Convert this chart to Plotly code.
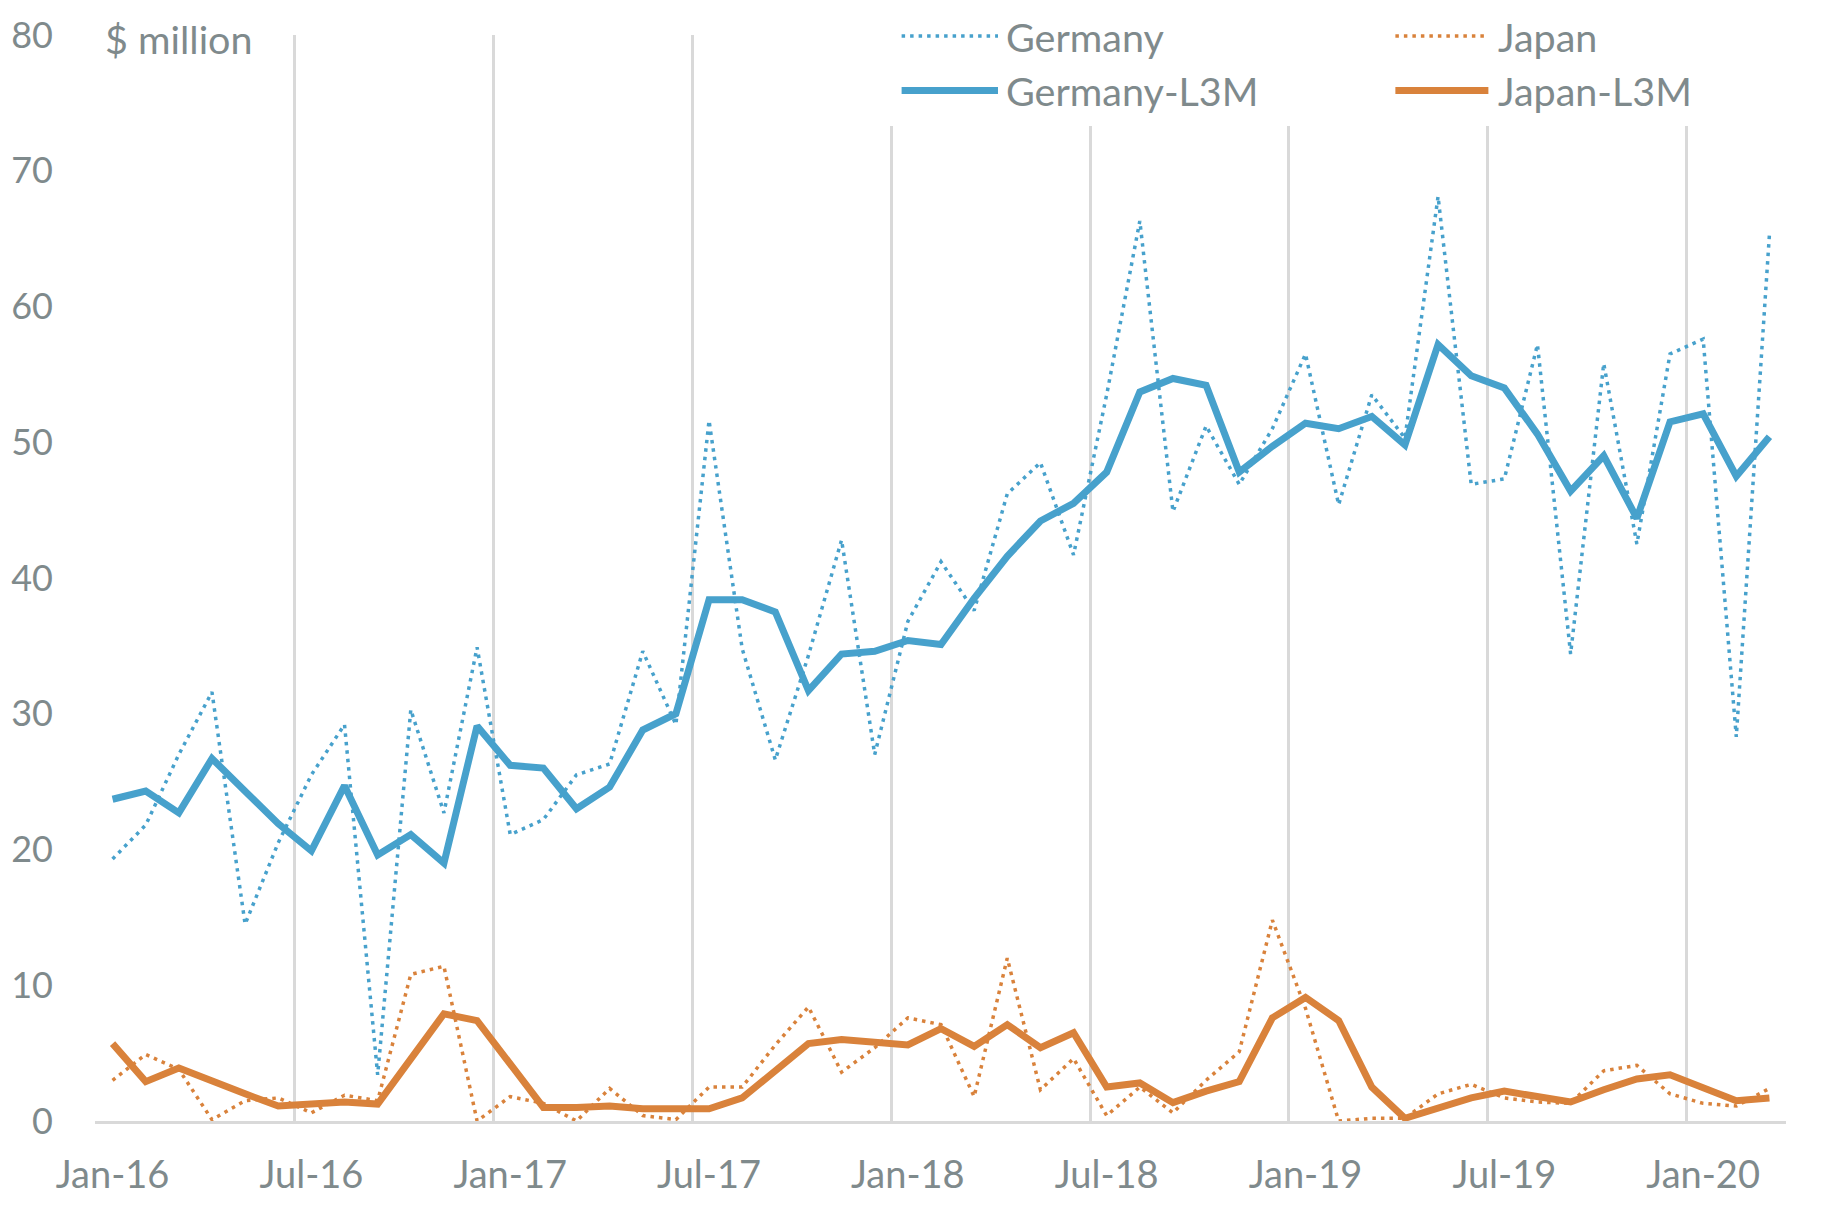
import plotly.graph_objects as go
import pandas as pd

months = pd.date_range("2016-01-01", "2020-03-01", freq="MS").strftime("%b-%y").tolist()

germany = [19.3, 21.8, 27.0, 31.6, 14.5, 20.5, 25.5, 29.2, 3.4, 30.3,
           22.7, 34.9, 21.1, 22.2, 25.5, 26.3, 34.6, 29.2, 51.6, 34.8,
           26.6, 34.3, 42.8, 27.0, 36.8, 41.2, 37.6, 46.2, 48.5, 41.7,
           53.5, 66.3, 44.9, 51.2, 46.9, 51.0, 56.5, 45.4, 53.5, 50.3,
           68.1, 46.9, 47.3, 57.2, 34.4, 55.8, 42.5, 56.5, 57.6, 28.3,
           65.3]

germany_l3m = [23.7, 24.3, 22.7, 26.7, 24.3, 21.9, 19.9, 24.7, 19.6, 21.1,
               19.0, 29.1, 26.2, 26.0, 23.0, 24.6, 28.8, 30.0, 38.4, 38.4,
               37.5, 31.7, 34.4, 34.6, 35.4, 35.1, 38.5, 41.6, 44.2, 45.5,
               47.8, 53.7, 54.7, 54.2, 47.8, 49.7, 51.4, 51.0, 51.9, 49.8,
               57.2, 54.9, 54.0, 50.6, 46.4, 49.0, 44.4, 51.5, 52.1, 47.5,
               50.4]

japan = [3.0, 4.9, 3.8, 0.1, 1.5, 1.7, 0.6, 1.9, 1.5, 10.8,
         11.4, 0.0, 1.8, 1.3, 0.0, 2.4, 0.4, 0.1, 2.5, 2.5,
         5.6, 8.4, 3.6, 5.4, 7.6, 7.1, 1.8, 12.0, 2.3, 4.6,
         0.4, 2.5, 0.6, 3.0, 5.1, 14.8, 8.3, 0.0, 0.2, 0.2,
         2.0, 2.7, 1.7, 1.4, 1.3, 3.7, 4.1, 2.0, 1.3, 1.1,
         2.4]

japan_l3m = [5.7, 2.9, 3.9, 2.9, 2.0, 1.1, 1.25, 1.4, 1.25, 4.5,
             7.9, 7.4, 4.2, 1.0, 1.0, 1.1, 0.9, 0.9, 0.9, 1.7,
             3.7, 5.7, 6.0, 5.8, 5.6, 6.8, 5.5, 7.1, 5.4, 6.5,
             2.5, 2.8, 1.35, 2.2, 2.9, 7.6, 9.1, 7.4, 2.5, 0.2,
             0.9, 1.7, 2.2, 1.8, 1.4, 2.3, 3.1, 3.4, 2.5, 1.5,
             1.7]

y_ticks = [0, 10, 20, 30, 40, 50, 60, 70, 80]

BLUE = "#47A1CC"
ORANGE = "#D9823B"
TEXT = "#7F8A8C"
GRID = "#D9D9D9"
FONT = "Lato, 'Open Sans', sans-serif"
FS = 38
FS_Y = 36
FS_LEG = 39.5
DOT = "3.5px,5px"
DOTW = 3.5
SOLIDW = 7

fig = go.Figure()
fig.add_trace(go.Scatter(x=months, y=germany, name="Germany", mode="lines",
                         line=dict(color=BLUE, width=DOTW, dash=DOT)))
fig.add_trace(go.Scatter(x=months, y=japan, name="Japan", mode="lines",
                         line=dict(color=ORANGE, width=DOTW, dash=DOT)))
fig.add_trace(go.Scatter(x=months, y=germany_l3m, name="Germany-L3M", mode="lines",
                         line=dict(color=BLUE, width=SOLIDW)))
fig.add_trace(go.Scatter(x=months, y=japan_l3m, name="Japan-L3M", mode="lines",
                         line=dict(color=ORANGE, width=SOLIDW)))

# page body has an 8px margin, so the figure is 16px smaller than the window
fig.update_layout(
    width=1814, height=1196,
    margin=dict(l=87, r=36, t=27, b=83),
    plot_bgcolor="white", paper_bgcolor="white",
    showlegend=False,
    font=dict(family=FONT, size=FS, color=TEXT),
)
fig.update_xaxes(
    type="category", categoryorder="array", categoryarray=months,
    tickmode="linear", tick0=0, dtick=6, tickson="boundaries",
    tickangle=0, automargin=False,
    showgrid=True, gridcolor=GRID, gridwidth=2.5,
    showline=True, linecolor=GRID, linewidth=2.5,
    ticks="", zeroline=False, range=[-0.53, 50.5],
    ticklabelstandoff=19,
)
fig.update_yaxes(
    range=[0, 80], tickmode="array", tickvals=y_ticks,
    showgrid=False, zeroline=False, showline=False, ticks="",
    automargin=False, ticklabelstandoff=41,
    tickfont=dict(size=FS_Y),
)

# white text-box backgrounds that hide the top of gridlines
fig.add_shape(type="rect", xref="x", yref="y", x0=-1, x1=4.5, y0=76.5, y1=81,
              fillcolor="white", line=dict(width=0), layer="between")
fig.add_shape(type="rect", xref="x", yref="y", x0=23.2, x1=48.3, y0=73.3, y1=81,
              fillcolor="white", line=dict(width=0), layer="between")

# "$ million" label
fig.add_annotation(text="$ million", xref="paper", yref="paper", x=0.0047, y=0.997,
                   xanchor="left", yanchor="middle", showarrow=False,
                   font=dict(family=FONT, size=FS_LEG, color=TEXT))

# custom legend
legend_items = [
    ("Germany", BLUE, DOTW, DOT, 0.477, 0.534, 0.5375, 0.999),
    ("Japan", ORANGE, DOTW, DOT, 0.769, 0.824, 0.8285, 0.999),
    ("Germany-L3M", BLUE, SOLIDW, "solid", 0.477, 0.534, 0.5375, 0.949),
    ("Japan-L3M", ORANGE, SOLIDW, "solid", 0.769, 0.824, 0.8285, 0.949),
]
for name, col, w, dash, lx0, lx1, tx, yy in legend_items:
    fig.add_shape(type="line", xref="paper", yref="paper", x0=lx0, x1=lx1, y0=yy, y1=yy,
                  line=dict(color=col, width=w, dash=dash), layer="above")
    fig.add_annotation(text=name, xref="paper", yref="paper", x=tx, y=yy,
                       xanchor="left", yanchor="middle", showarrow=False,
                       font=dict(family=FONT, size=FS_LEG, color=TEXT))

fig.write_html("out.html")
